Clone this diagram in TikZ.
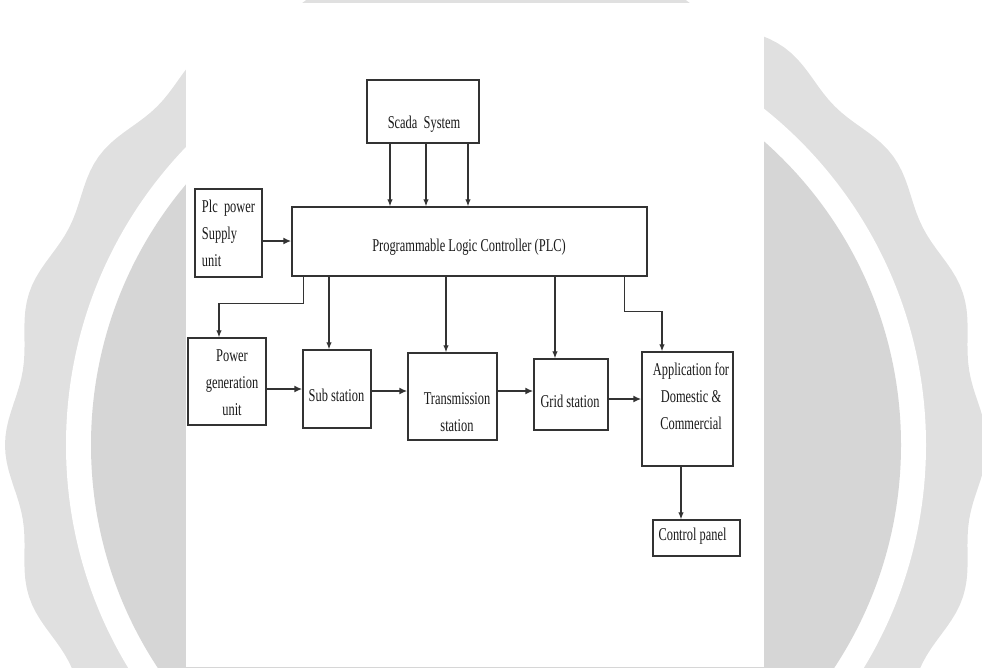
\documentclass[tikz,border=0pt]{standalone}
\usepackage{fontspec}
\setmainfont{Liberation Serif}[FakeStretch=0.69]
\usetikzlibrary{arrows.meta}
\definecolor{sealout}{HTML}{E0E0E0}
\definecolor{sealin}{HTML}{D6D6D6}
\definecolor{ink}{HTML}{333333}
\definecolor{txt}{HTML}{1A1A1A}
\begin{document}
\begin{tikzpicture}[x=1pt,y=-1pt,
  box/.style={draw=ink,line width=1.5pt,fill=white,inner sep=0pt},
  lbl/.style={text=txt,font=\fontsize{18}{27}\selectfont,align=center,inner sep=0pt},
  arrv/.style={draw=ink,line width=1.1pt,-{Latex[length=7pt,width=5.5pt]}},
  arrh/.style={draw=ink,line width=1.8pt,-{Latex[length=8pt,width=7pt]}}]
\useasboundingbox (0,0) rectangle (982,667);
% watermark seal
\fill[sealout,shift={(496,445)}] plot[domain=0:360,samples=361] (\x:{485+6*cos(20*\x)}) -- cycle;
\fill[white] (496,445) circle[radius=430];
\fill[sealin] (496,445) circle[radius=405];
\fill[white] (186,3) rectangle (764,667);
% boxes
\node[box,minimum width=112pt,minimum height=63pt] (scada) at (423,111.5) {};
\node[box,minimum width=355pt,minimum height=69pt] (plc) at (469.5,241.5) {};
\node[box,minimum width=67pt,minimum height=88pt] (pps) at (228.5,233) {};
\node[box,minimum width=78pt,minimum height=87pt] (pg) at (227,381.5) {};
\node[box,minimum width=68pt,minimum height=78pt] (sub) at (337,389) {};
\node[box,minimum width=89pt,minimum height=87pt] (trans) at (452.5,396.5) {};
\node[box,minimum width=74pt,minimum height=71pt] (grid) at (571,394.5) {};
\node[box,minimum width=91pt,minimum height=114pt] (app) at (687.5,409) {};
\node[box,minimum width=87pt,minimum height=36pt] (ctrl) at (696.5,538) {};
% labels
\node[lbl] (tscada) at (424,124) {Scada\ \ System};
\node[lbl] (tplc) at (469,247) {Programmable Logic Controller (PLC)};
\node[lbl,align=left] (tpps) at (228.5,233) {Plc\ \ power\\Supply\\unit};
\node[lbl] (tpg) at (232,383) {Power\\generation\\unit};
\node[lbl] (tsub) at (336.5,395) {Sub station};
\node[lbl] (ttrans) at (457,412) {Transmission\\station};
\node[lbl] (tgrid) at (570,401) {Grid station};
\node[lbl] (tapp) at (691,396) {Application for\\Domestic \&\\Commercial};
\node[lbl] (tctrl) at (692.5,536) {Control panel};
% scada to plc
\foreach \s in {-33,3,45}
  \draw[arrv] ([xshift=\s pt]scada.south) -- ([xshift=\s pt]scada.south |- plc.north);
% plc power supply to plc
\draw[arrh] ([yshift=-8pt]pps.east) -- ([yshift=-8pt]pps.east -| plc.west);
% plc to lower row
\draw[arrv] ([xshift=12pt]plc.south west) -- ++(0,27) -| ([xshift=-8pt]pg.north);
\draw[arrv] ([xshift=-8pt]sub.north |- plc.south) -- ([xshift=-8pt]sub.north);
\draw[arrv] ([xshift=-6.5pt]trans.north |- plc.south) -- ([xshift=-6.5pt]trans.north);
\draw[arrv] ([xshift=-16pt]grid.north |- plc.south) -- ([xshift=-16pt]grid.north);
\draw[arrv] ([xshift=-23pt]plc.south east) -- ++(0,35) -| ([xshift=-25.5pt]app.north);
% chain
\draw[arrh] (pg.east |- sub.west) -- (sub.west);
\draw[arrh] ([yshift=-2pt]sub.east) -- ([yshift=-2pt]sub.east -| trans.west);
\draw[arrh] ([yshift=5.5pt]trans.east) -- ([yshift=5.5pt]trans.east -| grid.west);
\draw[arrh] ([yshift=-4.5pt]grid.east) -- ([yshift=-4.5pt]grid.east -| app.west);
\draw[arrv] ([xshift=-6.5pt]app.south) -- ([xshift=-6.5pt]app.south |- ctrl.north);
\end{tikzpicture}
\end{document}
